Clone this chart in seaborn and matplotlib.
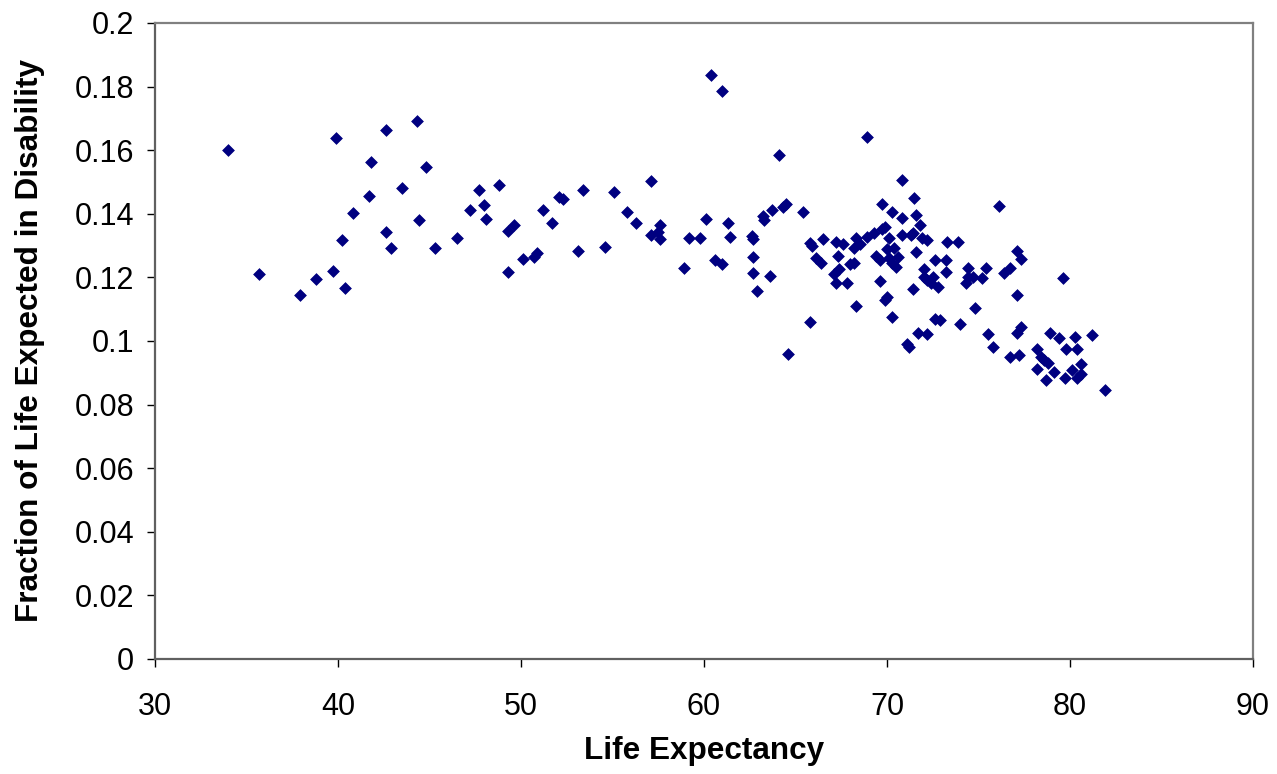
import matplotlib
matplotlib.use("Agg")
import matplotlib.pyplot as plt
import seaborn as sns
import pandas as pd
from matplotlib.ticker import FuncFormatter, FixedLocator

life_expectancy = [
    34.0, 35.7, 37.9, 38.8, 39.7, 40.4, 39.9, 40.2, 40.8, 41.7,
    41.8, 42.6, 42.6, 42.9, 43.5, 44.3, 44.4, 44.8, 45.3, 46.5,
    47.2, 47.7, 48.0, 48.1, 48.8, 49.3, 49.3, 49.6, 50.1, 50.7,
    50.9, 51.2, 51.7, 52.1, 52.3, 53.1, 53.4, 54.6, 55.1, 55.8,
    56.3, 57.1, 57.1, 57.5, 57.6, 57.6, 58.9, 59.2, 59.8, 60.1,
    60.4, 60.6, 61.0, 61.0, 61.3, 61.4, 62.6, 62.7, 62.7, 62.7,
    62.9, 63.6, 63.2, 63.3, 63.7, 64.1, 64.3, 64.5, 64.6, 65.4,
    68.9, 65.8, 65.8, 65.9, 66.5, 66.1, 66.4, 67.2, 67.6, 68.2,
    68.3, 68.5, 67.3, 67.1, 67.4, 67.2, 67.8, 68.0, 68.2, 68.3,
    68.9, 69.3, 69.7, 69.9, 70.1, 69.7, 70.3, 70.8, 70.8, 71.5,
    71.6, 71.8, 70.8, 71.3, 71.4, 69.4, 69.6, 70.0, 70.4, 70.1,
    70.3, 70.6, 70.5, 69.6, 70.0, 69.9, 70.3, 71.6, 71.9, 72.2,
    71.1, 71.2, 71.7, 72.2, 71.4, 72.0, 72.0, 72.2, 72.4, 72.5,
    72.6, 72.8, 73.2, 73.2, 72.6, 72.9, 73.3, 73.9, 74.0, 74.4,
    74.4, 74.3, 74.7, 75.2, 75.4, 74.8, 75.5, 75.8, 76.1, 76.4,
    76.7, 77.1, 77.3, 77.1, 77.1, 77.3, 76.7, 77.2, 79.6, 78.2,
    78.9, 79.4, 79.8, 80.4, 80.3, 81.2, 78.4, 78.6, 78.2, 78.8,
    79.1, 78.7, 79.7, 80.1, 80.6, 80.4, 80.6, 81.9,
]

fraction_disabled = [
    0.160, 0.121, 0.1145, 0.1195, 0.122, 0.1167, 0.1637, 0.1318, 0.1403, 0.1456,
    0.1563, 0.1664, 0.1342, 0.1292, 0.148, 0.1691, 0.1381, 0.1548, 0.1291, 0.1325,
    0.1412, 0.1476, 0.1428, 0.1383, 0.149, 0.1216, 0.1346, 0.1365, 0.1257, 0.1263,
    0.1276, 0.1412, 0.1372, 0.1454, 0.1446, 0.1284, 0.1476, 0.1297, 0.1468, 0.1407,
    0.1371, 0.1502, 0.1332, 0.1342, 0.1366, 0.132, 0.1229, 0.1323, 0.1323, 0.1384,
    0.1837, 0.1254, 0.1241, 0.1785, 0.1371, 0.1326, 0.1331, 0.1321, 0.1263, 0.1215,
    0.1158, 0.1205, 0.1394, 0.1381, 0.1411, 0.1585, 0.1421, 0.1431, 0.0959, 0.1406,
    0.1642, 0.1061, 0.1307, 0.1299, 0.1321, 0.1262, 0.1246, 0.1312, 0.1305, 0.1292,
    0.1323, 0.1305, 0.1268, 0.121, 0.1226, 0.1183, 0.1183, 0.1242, 0.1246, 0.1109,
    0.1326, 0.1341, 0.1352, 0.1358, 0.1325, 0.1431, 0.1406, 0.1505, 0.1387, 0.1449,
    0.1396, 0.1364, 0.1333, 0.1333, 0.1339, 0.1266, 0.1255, 0.1289, 0.1291, 0.1262,
    0.1244, 0.1265, 0.1234, 0.119, 0.1139, 0.1129, 0.1075, 0.1281, 0.1323, 0.1318,
    0.099, 0.0982, 0.1024, 0.1021, 0.1163, 0.1227, 0.1202, 0.1192, 0.1181, 0.1202,
    0.1255, 0.1169, 0.1255, 0.1218, 0.1069, 0.1066, 0.131, 0.1312, 0.1054, 0.1229,
    0.1202, 0.1181, 0.1202, 0.1197, 0.1231, 0.1105, 0.1022, 0.098, 0.1424, 0.1215,
    0.1229, 0.1282, 0.1259, 0.1144, 0.1024, 0.1045, 0.0949, 0.0955, 0.1197, 0.0975,
    0.1025, 0.101, 0.0976, 0.0974, 0.1014, 0.1019, 0.0951, 0.094, 0.0912, 0.093,
    0.0902, 0.0877, 0.0884, 0.0909, 0.0928, 0.0883, 0.0896, 0.0846,
]

x_ticks = [30, 40, 50, 60, 70, 80, 90]
y_ticks = [0, 0.02, 0.04, 0.06, 0.08, 0.1, 0.12, 0.14, 0.16, 0.18, 0.2]
x_title = "Life Expectancy"
y_title = "Fraction of Life Expected in Disability"

sns.set_style("white")
plt.rcParams["font.family"] = ["Liberation Sans", "DejaVu Sans"]
plt.rcParams["text.color"] = "black"
plt.rcParams["axes.labelcolor"] = "black"
plt.rcParams["xtick.color"] = "black"
plt.rcParams["ytick.color"] = "black"

df = pd.DataFrame({"x": life_expectancy, "y": fraction_disabled})

fig = plt.figure(figsize=(12.77, 7.74), dpi=100)
ax = fig.add_axes([155 / 1277, 115 / 774, 1098 / 1277, 636 / 774])

sns.scatterplot(data=df, x="x", y="y", marker="D", s=36, color="#000080",
                edgecolor="#000080", linewidth=0.5, legend=False, ax=ax)

ax.set_xlim(30, 90)
ax.set_ylim(0, 0.2)
ax.xaxis.set_major_locator(FixedLocator(x_ticks))
ax.yaxis.set_major_locator(FixedLocator(y_ticks))
ax.yaxis.set_major_formatter(FuncFormatter(lambda v, p: f"{round(v, 4):g}"))
ax.tick_params(axis="both", which="major", direction="out", length=6,
               width=1, colors="black", labelsize=22,
               left=True, bottom=True, right=False, top=False)
ax.tick_params(axis="x", pad=18)
ax.tick_params(axis="y", pad=9)

for side in ["top", "right"]:
    ax.spines[side].set_color("#808080")
    ax.spines[side].set_linewidth(1.6)
for side in ["left", "bottom"]:
    ax.spines[side].set_color("#606060")
    ax.spines[side].set_linewidth(1.6)

ax.set_xlabel(x_title, fontsize=22.7, fontweight="bold", va="center", color="black")
ax.set_ylabel(y_title, fontsize=22.7, fontweight="bold", va="center", color="black")
ax.xaxis.set_label_coords(0.5, (659 - 751) / 636)
ax.yaxis.set_label_coords((30 - 155) / 1098, 0.5)
ax.grid(False)

fig.savefig("out.png", dpi=100, facecolor="white")
